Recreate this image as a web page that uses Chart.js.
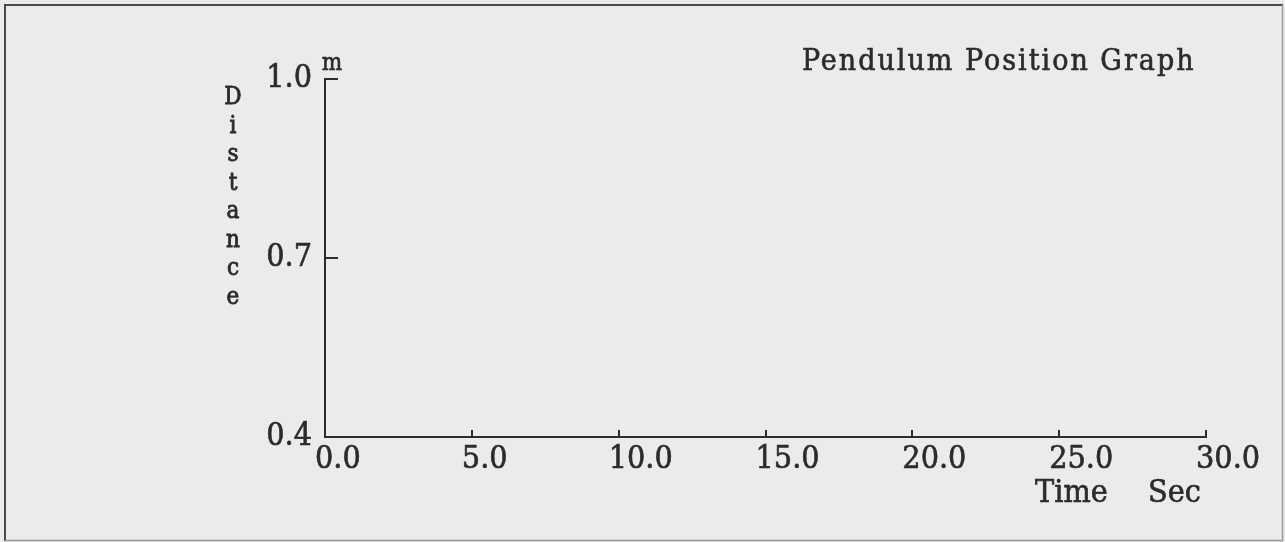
<!DOCTYPE html>
<html>
<head>
<meta charset="utf-8">
<title>Pendulum Position Graph</title>
<script src="https://cdn.jsdelivr.net/npm/chart.js@4.4.1/dist/chart.umd.min.js"></script>
<style>
  html, body { margin: 0; padding: 0; background: #ebebeb; }
  canvas { display: block; }
</style>
</head>
<body>
<canvas id="graph" width="1285" height="542"></canvas>
<script>
// Recorded pendulum samples (none logged yet)
const timeSec = [];
const distanceM = [];

// Axis ranges and tick marks
const timeTicks = [0, 5, 10, 15, 20, 25, 30];
const distanceTicks = [0.4, 0.7, 1.0];

// Text on the graph
const graphTitle = 'Pendulum Position Graph';
const distanceLabel = 'Distance';
const distanceUnit = 'm';
const timeLabel = 'Time';
const timeUnit = 'Sec';

const SERIF = '"DejaVu Serif Condensed", "Liberation Serif", serif';
const INK = '#2b2b2b';
const TEXT_WEIGHT = 0.6; // extra outline that thickens the glyph strokes

const points = timeSec.map((t, i) => ({ x: t, y: distanceM[i] }));

function heavyText(ctx, text, x, y) {
  ctx.fillText(text, x, y);
  ctx.strokeText(text, x, y);
}

// Frame, inward tick marks and free-standing labels
const decorations = {
  id: 'decorations',
  beforeDraw(chart) {
    const { ctx, width, height } = chart;
    ctx.save();
    ctx.fillStyle = '#ebebeb';
    ctx.fillRect(0, 0, width, height);
    ctx.lineWidth = 2;
    ctx.strokeStyle = '#4a4a4a';
    ctx.beginPath();
    ctx.moveTo(5, height - 1);
    ctx.lineTo(5, 5);
    ctx.lineTo(width - 2, 5);
    ctx.stroke();
    ctx.lineWidth = 1.5;
    ctx.strokeStyle = '#9a9a9a';
    ctx.beginPath();
    ctx.moveTo(width - 2.5, 5);
    ctx.lineTo(width - 2.5, height - 1.5);
    ctx.lineTo(5, height - 1.5);
    ctx.stroke();
    ctx.restore();
  },
  afterDraw(chart) {
    const { ctx, chartArea, scales } = chart;
    const xs = scales.x, ys = scales.y;
    ctx.save();
    ctx.strokeStyle = INK;
    ctx.lineWidth = 2;
    ctx.beginPath();
    timeTicks.forEach(v => {
      if (v === xs.min) return;
      const px = Math.round(xs.getPixelForValue(v));
      ctx.moveTo(px, chartArea.bottom);
      ctx.lineTo(px, chartArea.bottom - 7);
    });
    distanceTicks.forEach(v => {
      if (v === ys.min) return;
      const py = Math.round(ys.getPixelForValue(v));
      ctx.moveTo(chartArea.left, py);
      ctx.lineTo(chartArea.left + 13, py);
    });
    ctx.stroke();

    ctx.fillStyle = INK;
    ctx.strokeStyle = INK;
    ctx.lineWidth = TEXT_WEIGHT;
    ctx.textBaseline = 'alphabetic';

    // title, loosely spaced
    ctx.save();
    ctx.font = '30px ' + SERIF;
    ctx.textAlign = 'left';
    ctx.letterSpacing = '2px';
    heavyText(ctx, graphTitle, 802, 70);
    ctx.restore();

    ctx.font = '24px ' + SERIF;
    ctx.textAlign = 'center';
    heavyText(ctx, distanceUnit, chartArea.left + 7, 70);

    // distance label, one letter per line
    ctx.font = '24px ' + SERIF;
    ctx.lineWidth = 0.8;
    [...distanceLabel].forEach((ch, i) => {
      heavyText(ctx, ch, 233, 104 + i * 28.5);
    });
    ctx.lineWidth = TEXT_WEIGHT;

    ctx.font = '32px ' + SERIF;
    ctx.textAlign = 'left';
    heavyText(ctx, timeLabel, 1035, 502);
    heavyText(ctx, timeUnit, 1148, 502);
    ctx.restore();
  }
};

const tickStyle = {
  color: INK,
  font: { family: SERIF, size: 32 },
  textStrokeColor: INK,
  textStrokeWidth: TEXT_WEIGHT,
  autoSkip: false,
  callback: v => Number(v).toFixed(1)
};

new Chart(document.getElementById('graph'), {
  type: 'scatter',
  data: {
    datasets: [{
      label: distanceLabel,
      data: points,
      borderColor: INK,
      backgroundColor: INK,
      pointRadius: 2,
      showLine: true
    }]
  },
  options: {
    responsive: false,
    animation: false,
    devicePixelRatio: 1,
    layout: { padding: { left: 0, top: 79, right: 79, bottom: 45 } },
    plugins: {
      legend: { display: false },
      title: { display: false },
      tooltip: { enabled: false }
    },
    scales: {
      x: {
        type: 'linear',
        min: timeTicks[0],
        max: timeTicks[timeTicks.length - 1],
        afterBuildTicks(scale) { scale.ticks = timeTicks.map(v => ({ value: v })); },
        afterFit(scale) { scale.height = 60; scale.paddingLeft = 0; scale.paddingRight = 0; },
        grid: { display: true, drawOnChartArea: false, drawTicks: false },
        border: { display: true, color: INK, width: 2 },
        ticks: Object.assign({}, tickStyle, {
          align: 'start',
          labelOffset: -10,
          padding: 3,
          maxRotation: 0
        })
      },
      y: {
        type: 'linear',
        min: distanceTicks[0],
        max: distanceTicks[distanceTicks.length - 1],
        afterBuildTicks(scale) { scale.ticks = distanceTicks.map(v => ({ value: v })); },
        afterFit(scale) { scale.width = 325; scale.paddingTop = 0; scale.paddingBottom = 0; },
        grid: { display: true, drawOnChartArea: false, drawTicks: false },
        border: { display: true, color: INK, width: 2 },
        ticks: Object.assign({}, tickStyle, { padding: 13 })
      }
    }
  },
  plugins: [decorations]
});
</script>
</body>
</html>
